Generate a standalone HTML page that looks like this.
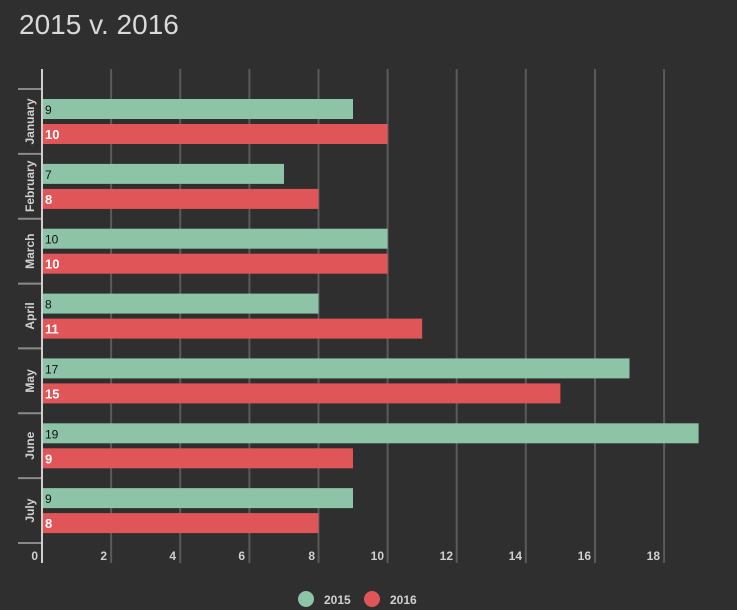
<!DOCTYPE html>
<html><head><meta charset="utf-8"><style>
html,body{margin:0;padding:0;background:#2f2f2f;}
svg{display:block;font-family:"Liberation Sans",sans-serif;}
</style></head><body>
<svg width="737" height="610" viewBox="0 0 737 610">
<rect width="737" height="610" fill="#2f2f2f"/>
<text x="19" y="34" font-size="28" fill="#d9d9d9">2015 v. 2016</text>
<g stroke="#5a5a5a" stroke-width="2">
<line x1="111.1" y1="69" x2="111.1" y2="563"/>
<line x1="180.2" y1="69" x2="180.2" y2="563"/>
<line x1="249.4" y1="69" x2="249.4" y2="563"/>
<line x1="318.5" y1="69" x2="318.5" y2="563"/>
<line x1="387.6" y1="69" x2="387.6" y2="563"/>
<line x1="456.7" y1="69" x2="456.7" y2="563"/>
<line x1="525.8" y1="69" x2="525.8" y2="563"/>
<line x1="595" y1="69" x2="595" y2="563"/>
<line x1="664.1" y1="69" x2="664.1" y2="563"/>
</g>
<g stroke="#8a8a8a" stroke-width="2">
<line x1="18" y1="89" x2="42" y2="89"/>
<line x1="18" y1="153.9" x2="42" y2="153.9"/>
<line x1="18" y1="218.7" x2="42" y2="218.7"/>
<line x1="18" y1="283.6" x2="42" y2="283.6"/>
<line x1="18" y1="348.4" x2="42" y2="348.4"/>
<line x1="18" y1="413.3" x2="42" y2="413.3"/>
<line x1="18" y1="478.1" x2="42" y2="478.1"/>
<line x1="18" y1="543" x2="42" y2="543"/>
</g>
<g id="bars"></g>
<line x1="42" y1="69" x2="42" y2="563" stroke="#d0d0d0" stroke-width="2"/>
<g font-size="12" font-weight="bold" fill="#d0d0d0" text-anchor="end">
<text x="38" y="560">0</text><text x="107" y="560">2</text><text x="176" y="560">4</text><text x="245" y="560">6</text><text x="315" y="560">8</text><text x="384" y="560">10</text><text x="453" y="560">12</text><text x="522" y="560">14</text><text x="591" y="560">16</text><text x="660" y="560">18</text>
</g>
<circle cx="306" cy="599" r="8" fill="#8dc3a7"/>
<text x="324" y="604" font-size="12" font-weight="bold" fill="#d0d0d0">2015</text>
<circle cx="372" cy="599" r="8" fill="#e05557"/>
<text x="390" y="604" font-size="12" font-weight="bold" fill="#d0d0d0">2016</text>
<g font-size="12" font-weight="bold" fill="#d0d0d0" text-anchor="middle">
<text transform="translate(34,121.5) rotate(-90)">January</text>
<text transform="translate(34,186.3) rotate(-90)">February</text>
<text transform="translate(34,251.2) rotate(-90)">March</text>
<text transform="translate(34,316) rotate(-90)">April</text>
<text transform="translate(34,380.9) rotate(-90)">May</text>
<text transform="translate(34,445.7) rotate(-90)">June</text>
<text transform="translate(34,510.6) rotate(-90)">July</text>
</g>
<g>
<!-- January -->
<rect x="43" y="99" width="310" height="20" fill="#8dc3a7"/><text x="45" y="114" font-size="12" fill="#111">9</text>
<rect x="43" y="124" width="344.6" height="20" fill="#e05557"/><text x="45" y="139" font-size="13" font-weight="bold" fill="#fff">10</text>
<!-- February -->
<rect x="43" y="163.9" width="241" height="20" fill="#8dc3a7"/><text x="45" y="178.9" font-size="12" fill="#111">7</text>
<rect x="43" y="188.9" width="275.5" height="20" fill="#e05557"/><text x="45" y="203.9" font-size="13" font-weight="bold" fill="#fff">8</text>
<!-- March -->
<rect x="43" y="228.7" width="344.6" height="20" fill="#8dc3a7"/><text x="45" y="243.7" font-size="12" fill="#111">10</text>
<rect x="43" y="253.7" width="344.6" height="20" fill="#e05557"/><text x="45" y="268.7" font-size="13" font-weight="bold" fill="#fff">10</text>
<!-- April -->
<rect x="43" y="293.6" width="275.5" height="20" fill="#8dc3a7"/><text x="45" y="308.6" font-size="12" fill="#111">8</text>
<rect x="43" y="318.6" width="379.2" height="20" fill="#e05557"/><text x="45" y="333.6" font-size="13" font-weight="bold" fill="#fff">11</text>
<!-- May -->
<rect x="43" y="358.4" width="586.5" height="20" fill="#8dc3a7"/><text x="45" y="373.4" font-size="12" fill="#111">17</text>
<rect x="43" y="383.4" width="517.4" height="20" fill="#e05557"/><text x="45" y="398.4" font-size="13" font-weight="bold" fill="#fff">15</text>
<!-- June -->
<rect x="43" y="423.3" width="655.6" height="20" fill="#8dc3a7"/><text x="45" y="438.3" font-size="12" fill="#111">19</text>
<rect x="43" y="448.3" width="310" height="20" fill="#e05557"/><text x="45" y="463.3" font-size="13" font-weight="bold" fill="#fff">9</text>
<!-- July -->
<rect x="43" y="488.1" width="310" height="20" fill="#8dc3a7"/><text x="45" y="503.1" font-size="12" fill="#111">9</text>
<rect x="43" y="513.1" width="275.5" height="20" fill="#e05557"/><text x="45" y="528.1" font-size="13" font-weight="bold" fill="#fff">8</text>
</g>
</svg>
</body></html>
